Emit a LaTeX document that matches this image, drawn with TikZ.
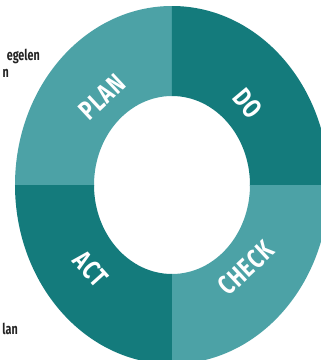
\documentclass[tikz,border=0pt]{standalone}
\usepackage{fontspec}
\newfontfamily\pdcafont[FakeStretch=0.76,LetterSpace=3]{Fira Sans}
\newfontfamily\sidefont[FakeStretch=0.72]{Fira Sans}
\definecolor{tealLight}{RGB}{76,162,166}
\definecolor{tealDark}{RGB}{20,123,124}
\definecolor{inkGray}{RGB}{35,35,35}

\begin{document}
\begin{tikzpicture}[x=1pt,y=1pt,
    label_ring/.style ={text=white, font=\pdcafont\bfseries\fontsize{27}{27}\selectfont, inner sep=0pt},
    label_side/.style ={text=inkGray, font=\sidefont\bfseries\fontsize{15}{15}\selectfont, inner sep=0pt, anchor=base east},
    quarter/.style ={even odd rule}]
    \useasboundingbox (0,0) rectangle (321,360);
    \clip (0,0) rectangle (321,360);
    % centre of the ring
    \coordinate (centre) at (172,175);
    % four quarters of the ring
    \begin{scope}
      \clip (centre) rectangle (0,360);
      \fill[quarter, tealLight] (centre) ellipse [x radius=157, y radius=179]
        (centre) ellipse [x radius=78, y radius=89];
    \end{scope}
    \begin{scope}
      \clip (centre) rectangle (330,360);
      \fill[quarter, tealDark] (centre) ellipse [x radius=157, y radius=179]
        (centre) ellipse [x radius=78, y radius=89];
    \end{scope}
    \begin{scope}
      \clip (centre) rectangle (330,-10);
      \fill[quarter, tealLight] (centre) ellipse [x radius=157, y radius=179]
        (centre) ellipse [x radius=78, y radius=89];
    \end{scope}
    \begin{scope}
      \clip (centre) rectangle (0,-10);
      \fill[quarter, tealDark] (centre) ellipse [x radius=157, y radius=179]
        (centre) ellipse [x radius=78, y radius=89];
    \end{scope}
    % labels on the ring
    \node [label_ring, rotate=43] (plan) at (102,263) {PLAN};
    \node [label_ring, rotate=-50] (do) at (248,257) {DO};
    \node [label_ring, rotate=43] (check) at (246,92) {CHECK};
    \node [label_ring, rotate=-48] (act) at (91,91) {ACT};
    % text cut off at the left edge
    \node [label_side] (side1) at (40,300) {egelen};
    \node [label_side] (side2) at (9,283) {n};
    \node [label_side] (side3) at (18,25) {lan};
  \end{tikzpicture}
\end{document}
